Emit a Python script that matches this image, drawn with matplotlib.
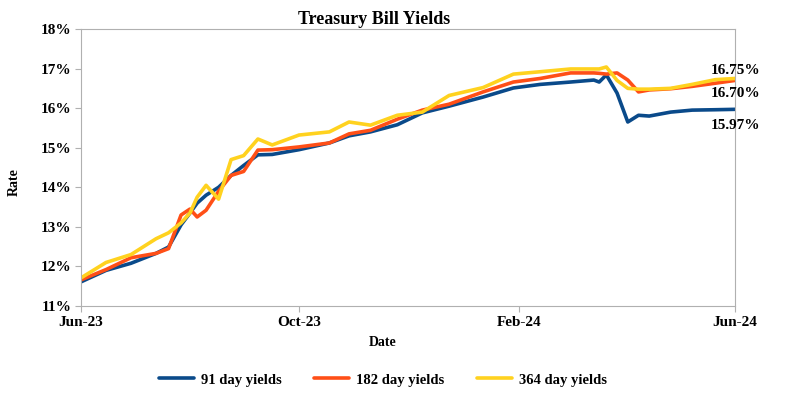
import matplotlib.pyplot as plt
import matplotlib.dates as mdates
import pandas as pd

# values (% yield)
dates = ['2023-06-01', '2023-06-15', '2023-06-29', '2023-07-13', '2023-07-20',
         '2023-07-27', '2023-08-01', '2023-08-05', '2023-08-10', '2023-08-17',
         '2023-08-24', '2023-08-31', '2023-09-08', '2023-09-16', '2023-10-01',
         '2023-10-18', '2023-10-29', '2023-11-10', '2023-11-25', '2023-12-09',
         '2023-12-24', '2024-01-12', '2024-01-29', '2024-02-13', '2024-03-01',
         '2024-03-14', '2024-03-17', '2024-03-21', '2024-03-27', '2024-04-02',
         '2024-04-08', '2024-04-14', '2024-04-26', '2024-05-08', '2024-05-21',
         '2024-06-01']
yld_91 = [11.61, 11.90, 12.08, 12.33, 12.49, 13.05, 13.35, 13.60, 13.80, 14.00,
          14.30, 14.55, 14.82, 14.83, 14.95, 15.12, 15.30, 15.40, 15.58, 15.88,
          16.05, 16.28, 16.51, 16.60, 16.66, 16.71, 16.66, 16.84, 16.38, 15.65,
          15.82, 15.80, 15.90, 15.95, 15.96, 15.97]
yld_182 = [11.66, 11.92, 12.22, 12.33, 12.45, 13.30, 13.45, 13.25, 13.42, 13.90,
           14.30, 14.40, 14.94, 14.95, 15.02, 15.12, 15.35, 15.44, 15.72, 15.95,
           16.10, 16.41, 16.66, 16.75, 16.89, 16.89, 16.88, 16.86, 16.89, 16.71,
           16.41, 16.46, 16.49, 16.55, 16.63, 16.70]
yld_364 = [11.71, 12.10, 12.30, 12.70, 12.85, 13.10, 13.35, 13.75, 14.05, 13.70,
           14.70, 14.80, 15.22, 15.07, 15.32, 15.40, 15.65, 15.57, 15.82, 15.90,
           16.32, 16.52, 16.86, 16.92, 16.99, 16.99, 16.99, 17.04, 16.70, 16.50,
           16.48, 16.48, 16.50, 16.60, 16.72, 16.75]
labels = ['91 day yields', '182 day yields', '364 day yields']
end_labels = ['15.97%', '16.70%', '16.75%']
xticks = ['2023-06-01', '2023-10-01', '2024-02-01', '2024-06-01']

colors = ['#0a4a8a', '#ff4f17', '#ffd21f']
plt.rcParams['font.family'] = ['Liberation Serif', 'DejaVu Serif']
plt.rcParams['font.weight'] = 'bold'

x = pd.to_datetime(dates)
fig = plt.figure(figsize=(7.93, 4.04), dpi=100)
ax = fig.add_axes([81/793, 1 - 306/404, 654/793, 277/404])

for ys, c, lab in zip([yld_91, yld_182, yld_364], colors, labels):
    ax.plot(x, ys, color=c, lw=2.6, label=lab, solid_capstyle='round', solid_joinstyle='round')

ax.set_xlim(pd.Timestamp('2023-06-01'), pd.Timestamp('2024-06-01'))
ax.set_ylim(11, 18)
ax.set_xticks(pd.to_datetime(xticks))
ax.xaxis.set_major_formatter(mdates.DateFormatter('%b-%y'))
ax.set_yticks(range(11, 19))
ax.set_yticklabels([f'{v}%' for v in range(11, 19)])
ax.tick_params(labelsize=11, length=4, color='#b0b0b0', pad=3)
for lbl in ax.get_xticklabels() + ax.get_yticklabels():
    lbl.set_fontweight('bold')
for s in ax.spines.values():
    s.set_color('#b0b0b0')

# end value labels
end_y = [15.57, 16.38, 16.96]
for txt, yy in zip(end_labels, end_y):
    ax.text(1.0 - 24/654, yy, txt, transform=ax.get_yaxis_transform(),
            fontsize=11, fontweight='bold', va='center', ha='left', clip_on=False)

fig.text(374/793, 1 - 19/404, 'Treasury Bill Yields', ha='center', va='center',
         fontsize=13, fontweight='bold')
fig.text(14/793, 1 - 182/404, 'Rate', rotation=90, ha='center', va='center',
         fontsize=10, fontweight='bold')
fig.text(383/793, 1 - 343/404, 'Date', ha='center', va='center',
         fontsize=10, fontweight='bold')

fig.legend(loc='center', bbox_to_anchor=(383/793, 1 - 380/404), ncol=3,
           frameon=False, handlelength=2.4, handletextpad=0.5, columnspacing=2.2,
           prop={'weight': 'bold', 'size': 10.5})

fig.savefig('out.png', dpi=100)
